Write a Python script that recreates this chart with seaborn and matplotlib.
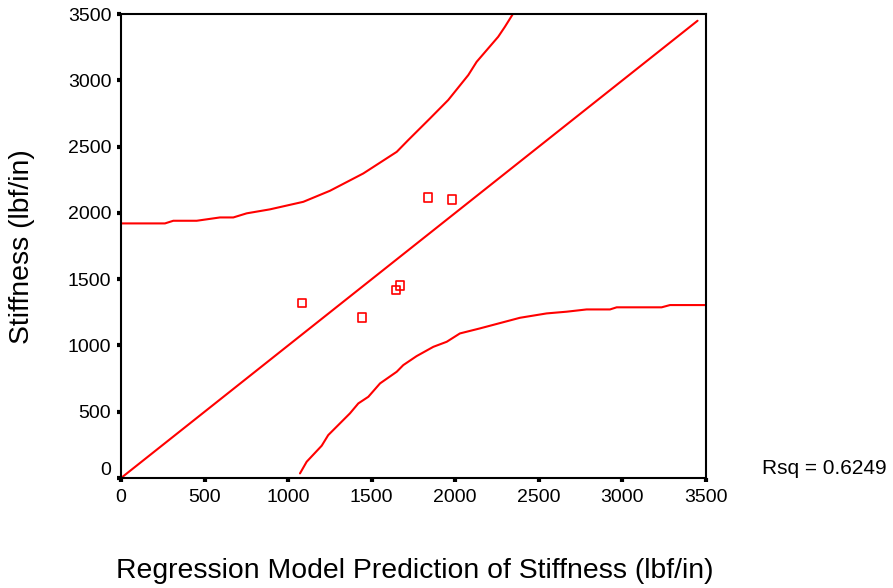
import matplotlib
matplotlib.use("Agg")
import matplotlib.pyplot as plt
import matplotlib.transforms as mtransforms
import seaborn as sns
import pandas as pd

# Observed points
pred_x = [1083, 1442, 1646, 1670, 1837, 1981]
stiff_y = [1320, 1214, 1418, 1455, 2119, 2104]

# Identity (fit) line
fit_x = [0, 3450]
fit_y = [0, 3450]

# Upper prediction band
upper_x = [0, 263, 313, 453, 592, 672, 752, 891, 1091, 1250, 1450, 1650, 1719,
           1849, 1958, 2078, 2128, 2257, 2297, 2347]
upper_y = [1921, 1921, 1941, 1941, 1966, 1966, 1997, 2027, 2084, 2167, 2298, 2461, 2550,
           2713, 2852, 3040, 3140, 3329, 3404, 3505]

# Lower prediction band
lower_x = [1071, 1111, 1201, 1240, 1370, 1420, 1480, 1550, 1650, 1689, 1769, 1869,
           1949, 2028, 2148, 2387, 2547, 2667, 2786, 2926, 2966, 3235, 3285, 3504]
lower_y = [35, 123, 244, 324, 488, 563, 613, 714, 802, 852, 920, 990,
           1028, 1091, 1129, 1209, 1242, 1255, 1272, 1272, 1288, 1288, 1305, 1305]

ticks = [0, 500, 1000, 1500, 2000, 2500, 3000, 3500]
rsq_text = "Rsq = 0.6249"

sns.set_style("white")
plt.rcParams['font.family'] = ['Liberation Sans', 'DejaVu Sans']
plt.rcParams['text.color'] = 'black'
plt.rcParams['xtick.color'] = 'black'
plt.rcParams['ytick.color'] = 'black'

fig = plt.figure(figsize=(8.93, 5.88), dpi=100)
ax = fig.add_axes([0.1355, 0.187, 0.655, 0.789])

red = "#FF0000"
sns.lineplot(x=fit_x, y=fit_y, ax=ax, color=red, linewidth=1.5, sort=False)
sns.lineplot(x=upper_x, y=upper_y, ax=ax, color=red, linewidth=1.5, sort=False)
sns.lineplot(x=lower_x, y=lower_y, ax=ax, color=red, linewidth=1.5, sort=False)
sns.scatterplot(x=pred_x, y=stiff_y, ax=ax, marker="s", s=40,
                facecolor="none", edgecolor=red, linewidth=1.2, zorder=5)

ax.set_xlim(0, 3500)
ax.set_ylim(0, 3500)
ax.set_xticks(ticks)
ax.set_yticks(ticks)
ax.set_xticklabels([str(t) for t in ticks], fontsize=14, color="black")
ax.set_yticklabels([str(t) for t in ticks], fontsize=14, color="black")
ax.tick_params(axis="both", direction="out", length=3, width=3, color="black",
               labelcolor="black",
               bottom=True, left=True, top=False, right=False)
ax.tick_params(axis="x", pad=5)
ax.tick_params(axis="y", pad=4)
# raise the y "0" label a little, as in the reference
lbl0 = ax.get_yticklabels()[0]
lbl0.set_transform(lbl0.get_transform() +
                   mtransforms.ScaledTranslation(0, 10 / 100, fig.dpi_scale_trans))
for sp in ax.spines.values():
    sp.set_visible(True)
    sp.set_color("black")
    sp.set_linewidth(1.5)
ax.grid(False)

fig.text(0.465, 0.029, "Regression Model Prediction of Stiffness (lbf/in)",
         fontsize=20.4, ha="center", va="center", color="black")
fig.text(0.0246, 0.581, "Stiffness (lbf/in)", fontsize=20.4, rotation=90,
         ha="center", va="center", color="black")
fig.text(0.853, 0.204, rsq_text, fontsize=15, ha="left", va="center", color="black")

fig.savefig("out.png", dpi=100)
